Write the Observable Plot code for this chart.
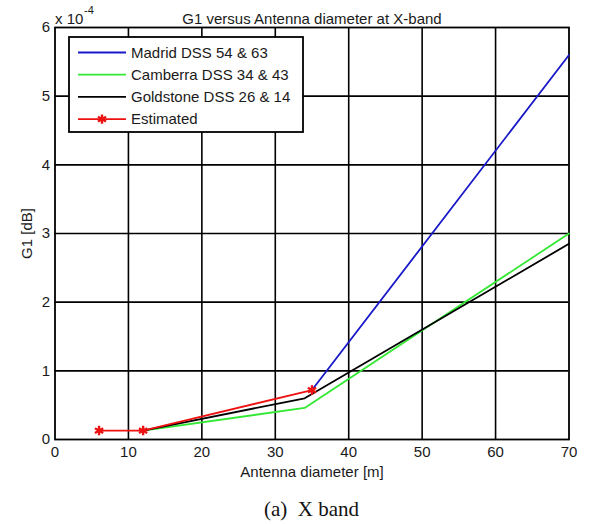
<!DOCTYPE html>
<html>
<head>
<meta charset="utf-8">
<script src="https://cdn.jsdelivr.net/npm/d3@7"></script>
<script src="https://cdn.jsdelivr.net/npm/@observablehq/plot@0.6"></script>
<style>
  html, body { margin: 0; padding: 0; background: #fff; overflow: hidden; }
  #wrap { position: relative; width: 592px; height: 524px; font-family: "Liberation Sans", Arial, sans-serif; overflow: hidden; }
  #caption { position: absolute; left: 0; width: 623px; top: 497px; text-align: center; font-family: "Liberation Serif", "Times New Roman", serif; font-size: 21px; color: #111; white-space: pre; }
</style>
</head>
<body>
<div id="wrap"></div>
<script>
// ---- data (values in units of 1e-4 dB) ----
const madridX = [35, 70];
const madridY = [0.72, 5.6];
const camberraX = [12, 34, 70];
const camberraY = [0.13, 0.46, 3.0];
const goldstoneX = [12, 34, 70];
const goldstoneY = [0.13, 0.6, 2.85];
const estimatedX = [6, 12, 35];
const estimatedY = [0.13, 0.13, 0.72];

const seriesNames = ["Madrid DSS 54 & 63", "Camberra DSS 34 & 43", "Goldstone DSS 26 & 14", "Estimated"];
const seriesColors = ["#1818c8", "#33e833", "#000000", "#ee1111"];
const xTicks = [0, 10, 20, 30, 40, 50, 60, 70];
const yTicks = [0, 1, 2, 3, 4, 5, 6];
const titleText = "G1 versus Antenna diameter at X-band";
const xLabel = "Antenna diameter [m]";
const yLabel = "G1 [dB]";
const captionText = "(a)  X band";

const toRows = (xs, ys, s) => xs.map((x, i) => ({x, y: ys[i], s}));
const madrid = toRows(madridX, madridY, seriesNames[0]);
const camberra = toRows(camberraX, camberraY, seriesNames[1]);
const goldstone = toRows(goldstoneX, goldstoneY, seriesNames[2]);
const estimated = toRows(estimatedX, estimatedY, seriesNames[3]);

const font = "Liberation Sans, Arial, sans-serif";

const chart = Plot.plot({
  width: 592,
  height: 490,
  marginLeft: 54.5,
  marginRight: 23.5,
  marginTop: 27,
  marginBottom: 51,
  style: {fontFamily: font, fontSize: "15px", color: "#1a1a1a", background: "#fff"},
  x: {domain: [0, 70]},
  y: {domain: [0, 6]},
  marks: [
    Plot.gridX(xTicks.slice(1, -1), {stroke: "#000", strokeOpacity: 1, strokeWidth: 1.6}),
    Plot.gridY(yTicks.slice(1, -1), {stroke: "#000", strokeOpacity: 1, strokeWidth: 1.6}),
    Plot.frame({stroke: "#000", strokeWidth: 1.8}),
    Plot.axisX({ticks: xTicks, tickFormat: d => String(d), tickSize: 0, tickPadding: 7, fontSize: 15, label: xLabel, labelAnchor: "center", labelArrow: "none", labelOffset: 37}),
    Plot.axisY({ticks: yTicks, tickFormat: d => String(d), tickSize: 0, tickPadding: 5, fontSize: 15, label: yLabel, labelAnchor: "center", labelArrow: "none", labelOffset: 34}),
    Plot.line(madrid, {x: "x", y: "y", stroke: seriesColors[0], strokeWidth: 1.8}),
    Plot.line(camberra, {x: "x", y: "y", stroke: seriesColors[1], strokeWidth: 1.8}),
    Plot.line(goldstone, {x: "x", y: "y", stroke: seriesColors[2], strokeWidth: 1.8}),
    Plot.line(estimated, {x: "x", y: "y", stroke: seriesColors[3], strokeWidth: 1.8}),
    Plot.dot(estimated, {x: "x", y: "y", symbol: "asterisk", r: 4.5, stroke: seriesColors[3], strokeWidth: 2.4}),
    Plot.text([titleText], {frameAnchor: "top", dy: -14, fontSize: 15, fill: "#1a1a1a"}),
    Plot.text(["x 10"], {frameAnchor: "top-left", dy: -14, dx: 0, textAnchor: "start", fontSize: 15, fill: "#1a1a1a"}),
    Plot.text(["-4"], {frameAnchor: "top-left", dy: -21, dx: 29, textAnchor: "start", fontSize: 11, fill: "#1a1a1a"})
  ]
});

const wrap = document.getElementById("wrap");
wrap.appendChild(chart);

// legend
const lw = 234, lh = 95, rowY0 = 15.5, rowStep = 22.2;
const leg = d3.create("svg").attr("width", lw + 2).attr("height", lh + 2)
  .style("position", "absolute").style("left", "68px").style("top", "36px");
leg.append("rect").attr("x", 1).attr("y", 1).attr("width", lw).attr("height", lh)
  .attr("fill", "#fff").attr("stroke", "#000").attr("stroke-width", 1.8);
seriesNames.forEach((name, i) => {
  const y = 1 + rowY0 + i * rowStep;
  leg.append("line").attr("x1", 10).attr("x2", 58).attr("y1", y).attr("y2", y)
    .attr("stroke", seriesColors[i]).attr("stroke-width", 1.8);
  if (i === 3) {
    const sym = d3.symbol(d3.symbolAsterisk, 60)();
    leg.append("path").attr("d", sym).attr("transform", `translate(34,${y})`)
      .attr("stroke", seriesColors[i]).attr("stroke-width", 2.4).attr("fill", "none");
  }
  leg.append("text").attr("x", 63).attr("y", y).attr("dy", "0.35em")
    .attr("font-family", font).attr("font-size", 15).attr("fill", "#1a1a1a").text(name);
});
wrap.appendChild(leg.node());

const cap = document.createElement("div");
cap.id = "caption";
cap.textContent = captionText;
wrap.appendChild(cap);
</script>
</body>
</html>
